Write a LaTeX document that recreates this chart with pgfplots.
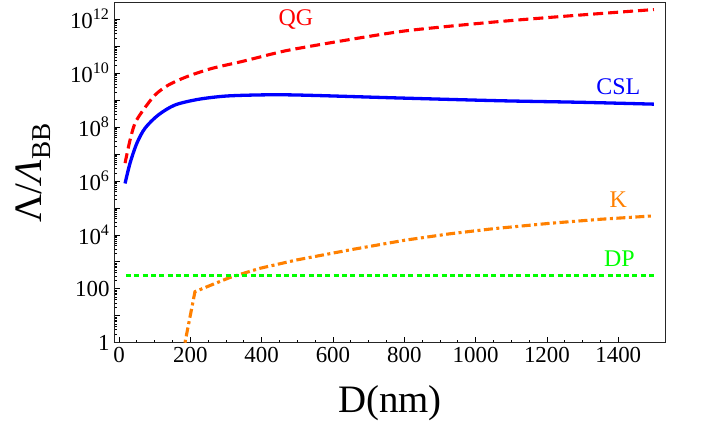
\documentclass[border=0pt]{standalone}
\usepackage{fontspec}
\setmainfont{Liberation Serif}
\usepackage{pgfplots}
\pgfplotsset{compat=1.18}
\definecolor{qgred}{RGB}{255,0,0}
\definecolor{cslblue}{RGB}{0,0,255}
\definecolor{korange}{RGB}{255,128,0}
\definecolor{dpgreen}{RGB}{0,255,0}
\begin{document}
\begin{tikzpicture}
\path[use as bounding box] (-114bp,-80.3bp) rectangle (590bp,342.7bp);
\begin{axis}[
  scale only axis,
  width=551.7bp, height=340bp,
  at={(0,0)}, anchor=south west,
  ymode=log,
  xmin=-14, xmax=1533,
  ymin=1, ymax=4.13e12,
  xtick={0,200,...,1400},
  xticklabels={0,200,400,600,800,1000,1200,1400},
  minor x tick num=3,
  ytickten={0,...,12},
  yticklabels={1,,100,,10\textsuperscript{4},,10\textsuperscript{6},,10\textsuperscript{8},,10\textsuperscript{10},,10\textsuperscript{12}},
  xtick pos=lower, ytick pos=left,
  tick align=inside,
  major tick length=6bp, minor tick length=3bp,
  every tick/.style={black, line width=0.7bp},
  axis line style={black!85, line width=0.9bp},
  ticklabel style={font=\fontsize{23}{23}\selectfont},
  xticklabel style={yshift=-1bp},
  yticklabel style={xshift=-1bp},
  xlabel={D(nm)},
  xlabel style={font=\fontsize{39}{39}\selectfont, at={(axis description cs:0.5,0)}, anchor=base, yshift=-70bp},
  ylabel={Λ/\textit{Λ}\textsubscript{BB}},
  ylabel style={font=\fontsize{39}{39}\selectfont, at={(axis description cs:-0.1468,0.5)}, anchor=center, rotate=0},
  clip=true,
]
% QG
\addplot[qgred, line width=3.1bp, dash pattern=on 10bp off 5bp, smooth] table {
x y
17 4.6e6
31 3.3e7
45 1.4e8
68 4.3e8
101 1.55e9
138 3.6e9
190 7.4e9
260 1.5e10
344 2.7e10
456 6.3e10
527 9.5e10
650 1.8e11
788 3.5e11
900 5.1e11
1060 8.1e11
1250 1.3e12
1500 2.3e12
};
% CSL
\addplot[cslblue, line width=3.3bp, smooth] table {
x y
17 8.1e5
31 4.6e6
50 2.5e7
73 9.1e7
110 2.8e8
157 6.6e8
222 1.07e9
297 1.41e9
381 1.55e9
461 1.58e9
560 1.48e9
788 1.2e9
1069 9.5e8
1300 8.3e8
1500 7.1e8
};
% K
\addplot[korange, line width=3.1bp, dash pattern=on 9bp off 3.5bp on 3bp off 3.5bp] table {
x y
178 0.35
185 1
213 78
255 132
311 263
395 575
498 1175
650 2820
800 6300
928 1.1e4
1050 1.7e4
1209 2.7e4
1350 3.8e4
1500 5.1e4
};
% DP
\addplot[dpgreen, line width=3bp, dash pattern=on 5bp off 3.3bp] table {
x y
20 300
1500 300
};
\node[text=qgred, font=\fontsize{24}{24}\selectfont] at (axis cs:496,9.4e11) {QG};
\node[text=cslblue, font=\fontsize{24}{24}\selectfont] at (axis cs:1400,3.1e9) {CSL};
\node[text=korange, font=\fontsize{24}{24}\selectfont] at (axis cs:1400,2.1e5) {K};
\node[text=dpgreen, font=\fontsize{24}{24}\selectfont] at (axis cs:1403,1.3e3) {DP};
\end{axis}
\end{tikzpicture}
\end{document}
